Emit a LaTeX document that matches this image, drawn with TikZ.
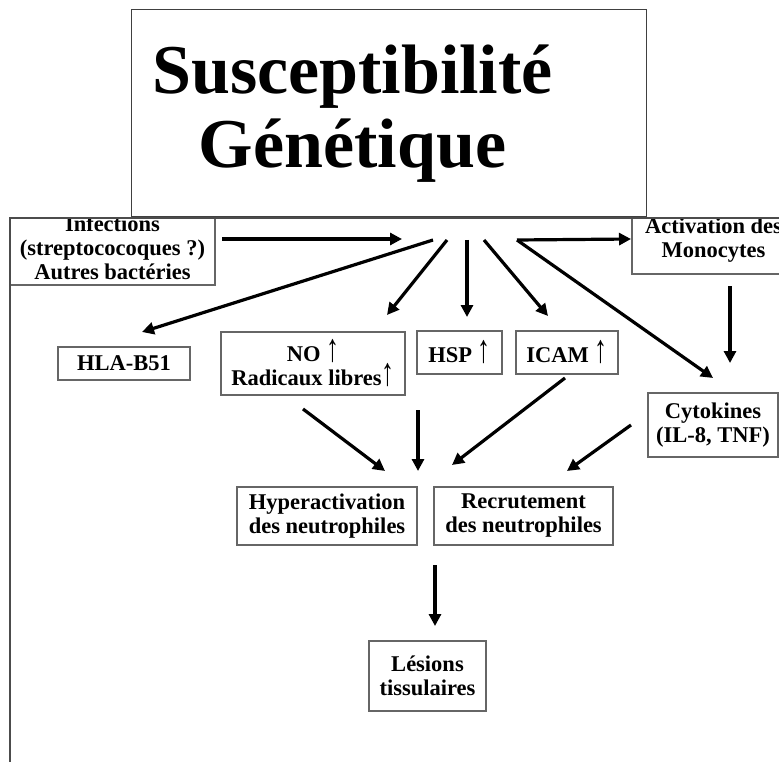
\documentclass[tikz,border=0pt]{standalone}
\usepackage{fontspec}
\setmainfont{Liberation Serif}
\usetikzlibrary{arrows.meta}
\newcommand{\upar}{{\mdseries\scalebox{1.15}[1.75]{↑}}}
\begin{document}
\begin{tikzpicture}[x=1pt,y=-1pt,
  box/.style={draw=black!60, line width=1.6pt, fill=white, inner sep=0pt, align=center,
    font=\fontsize{22.5}{24}\selectfont\bfseries},
  arr/.style={line width=3.2pt, -{Triangle[length=12pt,width=12pt]}}
]
\useasboundingbox (0,0) rectangle (779,762);
\clip (0,0) rectangle (779,762);
% boxes touching the frame top (their tops are hidden)
\node[box, minimum width=205pt, minimum height=74pt] (inf) at (112.5,248) {Infections\\(streptococoques ?)\\Autres bactéries};
\node[box, minimum width=163pt, minimum height=68pt] (act) at (713.5,240) {Activation des\\Monocytes};
\fill[white] (0,0) rectangle (779,217.5);
\draw[black!70, line width=1.5pt] (10,762) -- (10,218) -- (779,218);
% title
\node[draw=black!75, line width=1pt, fill=white, minimum width=515pt, minimum height=207pt,
  inner sep=0pt, align=center, font=\fontsize{70}{74}\selectfont\bfseries] (title) at (388.5,113.5)
  {Susceptibilité\hspace*{72pt}\\Génétique\hspace*{72pt}};
% other boxes
\node[box, minimum width=132pt, minimum height=33pt] (hla) at (124,363.5) {HLA-B51};
\node[box, minimum width=184pt, minimum height=63pt] (no) at (313,363.5) {NO \upar\\Radicaux libres\upar};
\node[box, minimum width=85pt, minimum height=43pt] (hsp) at (459.5,352.5) {HSP \upar};
\node[box, minimum width=102pt, minimum height=43pt] (icam) at (567,352.5) {ICAM \upar};
\node[box, minimum width=130pt, minimum height=64pt] (cyt) at (713,425) {Cytokines\\(IL-8, TNF)};
\node[box, minimum width=180pt, minimum height=58pt] (hyp) at (327,516) {Hyperactivation\\des neutrophiles};
\node[box, minimum width=179pt, minimum height=58pt] (rec) at (523.5,516) {Recrutement\\des neutrophiles};
\node[box, minimum width=117pt, minimum height=70pt] (les) at (427.5,676) {Lésions\\tissulaires};
% connector end points
\coordinate (i0) at (222,239);  \coordinate (i1) at (402,239);
\coordinate (h1) at (433,240);  \coordinate (t1) at (142,332);
\coordinate (h2) at (447,240);  \coordinate (t2) at (387,315);
\coordinate (h3) at (467,240);  \coordinate (t3) at (467,317);
\coordinate (h4) at (484,240);  \coordinate (t4) at (548,316);
\coordinate (h5) at (517,240);  \coordinate (t5) at (713,378);
\coordinate (t6) at (631,239);
\coordinate (a0) at (730,286);  \coordinate (a1) at (730,363);
\coordinate (n0) at (303,409);  \coordinate (n1) at (385,471);
\coordinate (v0) at (418,410);  \coordinate (v1) at (418,471);
\coordinate (c0) at (565,378);  \coordinate (c1) at (452,465);
\coordinate (k0) at (631,425);  \coordinate (k1) at (567,471);
\coordinate (l0) at (435,565);  \coordinate (l1) at (435,626);
% arrows
\draw[arr] (i0) -- (i1);
\draw[arr] (h1) -- (t1);
\draw[arr] (h2) -- (t2);
\draw[arr] (h3) -- (t3);
\draw[arr] (h4) -- (t4);
\draw[arr] (h5) -- (t5);
\draw[arr] (h5) -- (t6);
\draw[arr] (a0) -- (a1);
\draw[arr] (n0) -- (n1);
\draw[arr] (v0) -- (v1);
\draw[arr] (c0) -- (c1);
\draw[arr] (k0) -- (k1);
\draw[arr] (l0) -- (l1);
\end{tikzpicture}
\end{document}
